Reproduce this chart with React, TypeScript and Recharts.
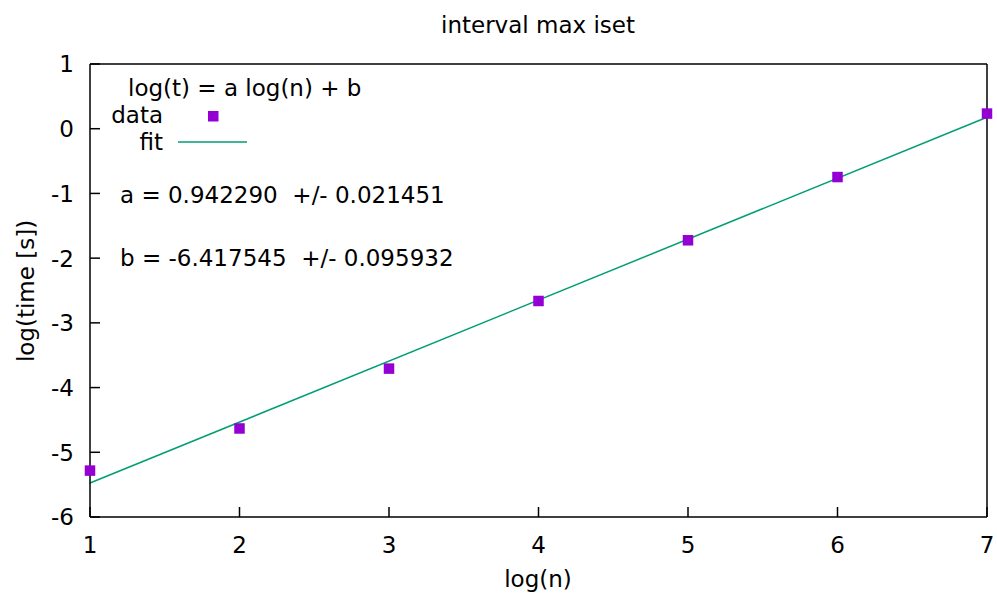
import React from 'react';
import { ComposedChart, XAxis, YAxis, Scatter, Line, Legend } from 'recharts';

const logN = [1, 2, 3, 4, 5, 6, 7];
const logTime = [-5.283, -4.632, -3.707, -2.662, -1.724, -0.747, 0.234];

// fitted line  log(t) = a log(n) + b, end points at n = 1 and n = 7
const fitLogN = [1, 7];
const fitLogTime = [-5.475, 0.178];

const xTicks = [1, 2, 3, 4, 5, 6, 7];
const yTicks = [-6, -5, -4, -3, -2, -1, 0, 1];

const keyTitle = 'log(t) = a log(n) + b';
const fitLabels = ['a = 0.942290  +/- 0.021451', 'b = -6.417545  +/- 0.095932'];

const FONT = 'DejaVu Sans, sans-serif';
const FS = 23;
const PURPLE = '#9400d3';
const GREEN = '#009e73';
const TICK = 10;

const pointData = logN.map((n, i) => ({ n, t: logTime[i] }));
const fitData = fitLogN.map((n, i) => ({ n, t: fitLogTime[i] }));

const BottomTick = (props: any) => {
  const { x, y, payload } = props;
  return (
    <g>
      <line x1={x} y1={y} x2={x} y2={y - TICK} stroke="#000" strokeWidth={1.5} />
      <text x={x} y={y + 36} textAnchor="middle" fontSize={FS} fontFamily={FONT} fill="#000">
        {payload.value}
      </text>
    </g>
  );
};

const TopTick = (props: any) => {
  const { x, y } = props;
  return <line x1={x} y1={y} x2={x} y2={y + TICK} stroke="#000" strokeWidth={1.5} />;
};

const LeftTick = (props: any) => {
  const { x, y, payload } = props;
  return (
    <g>
      <line x1={x} y1={y} x2={x + TICK} y2={y} stroke="#000" strokeWidth={1.5} />
      <text x={x - 16} y={y + 8.4} textAnchor="end" fontSize={FS} fontFamily={FONT} fill="#000">
        {payload.value}
      </text>
    </g>
  );
};

const RightTick = (props: any) => {
  const { x, y } = props;
  return <line x1={x} y1={y} x2={x - TICK} y2={y} stroke="#000" strokeWidth={1.5} />;
};

const SquareDot = (props: any) => {
  const { cx, cy } = props;
  return <rect x={cx - 5.25} y={cy - 5.25} width={10.5} height={10.5} fill={PURPLE} />;
};

const KeyBox = (props: any) => {
  const { payload } = props;
  const items = payload || [];
  return (
    <svg width={300} height={90} style={{ display: 'block', overflow: 'visible' }}>
      <text x={28} y={26} fontSize={FS} fontFamily={FONT} fill="#000">
        {keyTitle}
      </text>
      {items.map((entry: any, i: number) => {
        const baseY = 53 + i * 27;
        return (
          <g key={entry.value}>
            <text x={63} y={baseY} textAnchor="end" fontSize={FS} fontFamily={FONT} fill="#000">
              {entry.value}
            </text>
            {entry.type === 'square' ? (
              <rect x={108} y={baseY - 12} width={10.5} height={10.5} fill={PURPLE} />
            ) : (
              <line x1={78} y1={baseY - 8} x2={147} y2={baseY - 8} stroke={GREEN} strokeWidth={1.5} />
            )}
          </g>
        );
      })}
    </svg>
  );
};

const App: React.FC = () => {
  return (
    <div style={{ position: 'absolute', left: 0, top: 0, width: 997, height: 599, background: '#fff' }}>
      <ComposedChart
        width={997}
        height={599}
        margin={{ top: 63, right: 9, bottom: 81, left: 89 }}
      >
        <XAxis
          xAxisId="bottom"
          dataKey="n"
          type="number"
          domain={[1, 7]}
          ticks={xTicks}
          height={1}
          tickSize={0}
          tickMargin={0}
          tick={<BottomTick />}
          axisLine={{ stroke: '#000', strokeWidth: 1.5 }}
        />
        <XAxis
          xAxisId="top"
          orientation="top"
          dataKey="n"
          type="number"
          domain={[1, 7]}
          ticks={xTicks}
          height={1}
          tickSize={0}
          tickMargin={0}
          tick={<TopTick />}
          axisLine={{ stroke: '#000', strokeWidth: 1.5 }}
        />
        <YAxis
          yAxisId="left"
          type="number"
          domain={[-6, 1]}
          ticks={yTicks}
          width={1}
          tickSize={0}
          tickMargin={0}
          tick={<LeftTick />}
          axisLine={{ stroke: '#000', strokeWidth: 1.5 }}
        />
        <YAxis
          yAxisId="right"
          orientation="right"
          type="number"
          domain={[-6, 1]}
          ticks={yTicks}
          width={1}
          tickSize={0}
          tickMargin={0}
          tick={<RightTick />}
          axisLine={{ stroke: '#000', strokeWidth: 1.5 }}
        />
        <Line
          xAxisId="bottom"
          yAxisId="left"
          data={fitData}
          dataKey="t"
          name="fit"
          type="linear"
          stroke={GREEN}
          strokeWidth={1.5}
          dot={false}
          legendType="line"
          isAnimationActive={false}
        />
        <Scatter
          xAxisId="bottom"
          yAxisId="left"
          data={pointData}
          dataKey="t"
          name="data"
          fill={PURPLE}
          shape={<SquareDot />}
          legendType="square"
          isAnimationActive={false}
        />
        <Legend
          content={<KeyBox />}
          layout="vertical"
          align="center"
          verticalAlign="middle"
          itemSorter={(item: any) => (item.value === 'data' ? 0 : 1)}
          wrapperStyle={{ position: 'absolute', left: 100, top: 70, width: 300, height: 90 }}
        />
        <text x={538} y={33} textAnchor="middle" fontSize={FS} fontFamily={FONT} fill="#000">
          interval max iset
        </text>
        <text x={538} y={587} textAnchor="middle" fontSize={FS} fontFamily={FONT} fill="#000">
          log(n)
        </text>
        <text
          x={26}
          y={291}
          textAnchor="middle"
          dominantBaseline="central"
          transform="rotate(-90, 26, 291)"
          fontSize={FS}
          fontFamily={FONT}
          fill="#000"
        >
          log(time [s])
        </text>
        {fitLabels.map((label, i) => (
          <text
            key={label}
            x={120}
            y={203 + i * 63}
            fontSize={FS}
            fontFamily={FONT}
            fill="#000"
            style={{ whiteSpace: 'pre' }}
          >
            {label}
          </text>
        ))}
      </ComposedChart>
    </div>
  );
};

export default App;
